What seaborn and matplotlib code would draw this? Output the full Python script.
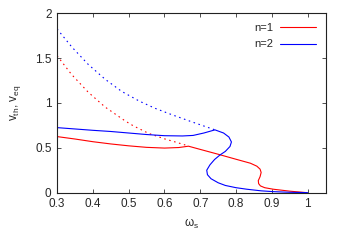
import pandas as pd
import matplotlib
matplotlib.use("Agg")
import matplotlib.pyplot as plt
import seaborn as sns

# n=1 branches
n1_solid_x = [0.30, 0.35, 0.40, 0.45, 0.50, 0.55, 0.60, 0.64, 0.667, 0.70, 0.75, 0.80,
              0.84, 0.858, 0.867, 0.870, 0.867, 0.862, 0.863, 0.868, 0.880, 0.904, 0.951, 0.997]
n1_solid_y = [0.625, 0.598, 0.568, 0.543, 0.522, 0.505, 0.497, 0.503, 0.518, 0.482, 0.428, 0.372,
              0.328, 0.295, 0.262, 0.225, 0.178, 0.134, 0.100, 0.075, 0.055, 0.038, 0.016, 0.0]
n1_dash_x = [0.30, 0.34, 0.387, 0.434, 0.49, 0.513, 0.555, 0.60, 0.63, 0.655, 0.667]
n1_dash_y = [1.527, 1.32, 1.12, 0.955, 0.80, 0.745, 0.662, 0.60, 0.565, 0.535, 0.518]

# n=2 branches
n2_solid_x = [0.30, 0.35, 0.40, 0.45, 0.50, 0.55, 0.60, 0.65, 0.68, 0.71, 0.741, 0.765,
              0.780, 0.787, 0.783, 0.770, 0.755, 0.740, 0.727, 0.718, 0.720, 0.730, 0.750,
              0.770, 0.800, 0.830, 0.870, 0.904, 0.950, 1.0]
n2_solid_y = [0.725, 0.710, 0.695, 0.682, 0.665, 0.648, 0.635, 0.632, 0.638, 0.665, 0.700, 0.665,
              0.620, 0.565, 0.515, 0.460, 0.420, 0.370, 0.310, 0.250, 0.200, 0.155, 0.110,
              0.080, 0.055, 0.038, 0.020, 0.011, 0.004, 0.0]
n2_dash_x = [0.30, 0.341, 0.387, 0.434, 0.48, 0.53, 0.574, 0.62, 0.676, 0.741]
n2_dash_y = [1.825, 1.625, 1.43, 1.265, 1.13, 1.02, 0.94, 0.87, 0.79, 0.700]

x_ticks = [0.3, 0.4, 0.5, 0.6, 0.7, 0.8, 0.9, 1.0]
x_labels = ["0.3", "0.4", "0.5", "0.6", "0.7", "0.8", "0.9", "1"]
y_ticks = [0, 0.5, 1, 1.5, 2]
y_labels = ["0", "0.5", "1", "1.5", "2"]

sns.set_style("ticks")
plt.rcParams['font.family'] = ['Liberation Sans', 'DejaVu Sans']
plt.rcParams['mathtext.default'] = 'regular'

fig = plt.figure(figsize=(3.46, 2.42), dpi=100)
ax = fig.add_axes([0.165, 0.204, 0.776, 0.741])

lw = 0.8
dash = (1.4, 3.2)

sns.lineplot(x=n1_solid_x, y=n1_solid_y, sort=False, estimator=None,
             color="#ff0000", lw=lw, ax=ax, label="n=1")
sns.lineplot(x=n1_dash_x, y=n1_dash_y, sort=False, estimator=None,
             color="#ff0000", lw=lw, ax=ax)
sns.lineplot(x=n2_solid_x, y=n2_solid_y, sort=False, estimator=None,
             color="#0000ff", lw=lw, ax=ax, label="n=2")
sns.lineplot(x=n2_dash_x, y=n2_dash_y, sort=False, estimator=None,
             color="#0000ff", lw=lw, ax=ax)

# dotted unstable branches
ax.lines[1].set_dashes(dash)
ax.lines[3].set_dashes(dash)

ax.set_xlim(0.3, 1.05)
ax.set_ylim(0, 2)
ax.set_xticks(x_ticks)
ax.set_xticklabels(x_labels)
ax.set_yticks(y_ticks)
ax.set_yticklabels(y_labels)
ax.tick_params(direction='in', length=3, width=0.6, labelsize=8.5,
               top=True, right=True, pad=4, color='#333333')

for sp in ax.spines.values():
    sp.set_visible(True)
    sp.set_linewidth(0.8)
    sp.set_color('#222222')

ax.set_xlabel(r'$\omega_s$', fontsize=8.5, labelpad=5)
ax.set_ylabel(r'v$_{th}$, v$_{eq}$', fontsize=8.5, labelpad=9)

ax.legend(loc='upper right', frameon=False, markerfirst=False, fontsize=8,
          handlelength=3.2, handletextpad=0.6, labelspacing=0.55,
          borderaxespad=0.5)

plt.savefig("out.png", dpi=100)
